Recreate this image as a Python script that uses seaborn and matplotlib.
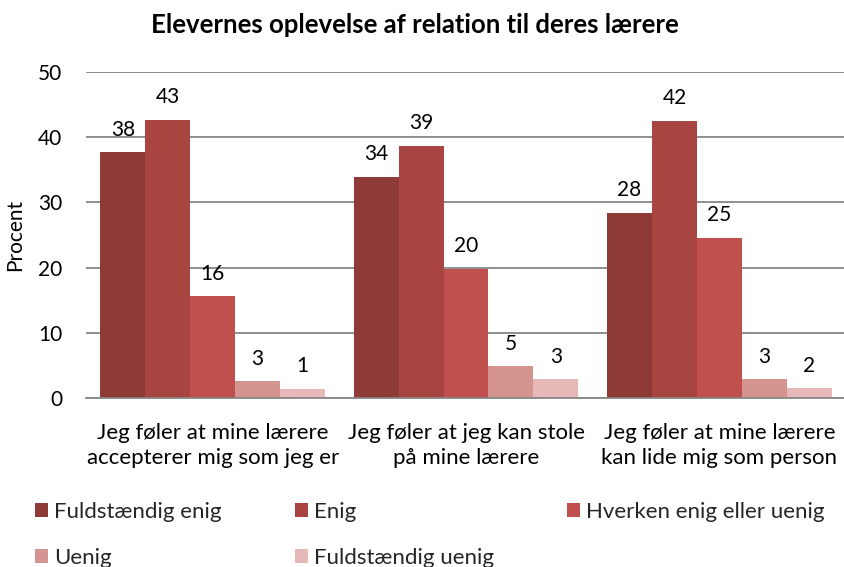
import matplotlib
matplotlib.use("Agg")
import matplotlib.pyplot as plt
import seaborn as sns
import pandas as pd

categories = ["Jeg føler at mine lærere\naccepterer mig som jeg er",
              "Jeg føler at jeg kan stole\npå mine lærere",
              "Jeg føler at mine lærere\nkan lide mig som person"]
series = ["Fuldstændig enig", "Enig", "Hverken enig eller uenig", "Uenig", "Fuldstændig uenig"]
fuldst_enig = [37.7, 33.9, 28.4]
enig = [42.7, 38.7, 42.5]
hverken = [15.6, 19.8, 24.6]
uenig = [2.6, 4.9, 2.9]
fuldst_uenig = [1.4, 2.9, 1.5]
colors = ["#8E3B37", "#A84541", "#C0504D", "#D49490", "#E6B9B8"]

values = [fuldst_enig, enig, hverken, uenig, fuldst_uenig]
rows = []
for s, vals in zip(series, values):
    for c, v in zip(categories, vals):
        rows.append({"cat": c, "serie": s, "val": v})
df = pd.DataFrame(rows)

sns.set_theme(style="white")
plt.rcParams["font.family"] = ["Lato", "DejaVu Sans"]

FS = 16
fig = plt.figure(figsize=(8.44, 5.67), dpi=100)
ax = fig.add_axes([86/844, 1-398/567, (846-86)/844, (398-72)/567])

sns.barplot(data=df, x="cat", y="val", hue="serie", order=categories, hue_order=series,
            palette=colors, saturation=1, width=0.886, dodge=True, gap=0, linewidth=0, ax=ax,
            legend=True, errorbar=None)

for cont in ax.containers:
    ax.bar_label(cont, labels=[f"{v:.0f}" for v in cont.datavalues], padding=9, fontsize=15, color="#000000")

ax.set_ylim(0, 50)
ax.set_yticks(range(0, 51, 10))
ax.set_xlim(-0.5, 2.5)
ax.yaxis.grid(True, color="#868686", linewidth=1.3)
ax.set_axisbelow(True)
for sp in ["left", "right", "top"]:
    ax.spines[sp].set_visible(False)
ax.spines["bottom"].set_color("#868686")
ax.spines["bottom"].set_linewidth(1.3)
ax.tick_params(axis="y", length=0, labelsize=15, pad=17, labelcolor="#000000")
ax.tick_params(axis="x", which="major", length=0, labelsize=FS, pad=18, labelcolor="#000000")
for t in ax.get_xticklabels():
    t.set_linespacing(1.3)
ax.set_xticks([-0.5, 0.5, 1.5, 2.5], minor=True)
ax.tick_params(axis="x", which="minor", length=6, width=1.3, color="#868686", direction="out")
ax.set_xlabel("")
ax.set_ylabel("Procent", fontsize=15, color="#000000", va="center")
ax.yaxis.set_label_coords(15/844, 1-235/567, transform=fig.transFigure)

fig.text(0.491, 1-25/567, "Elevernes oplevelse af relation til deres lærere", ha="center", va="center",
         fontsize=18.5, fontweight="bold", color="#000000")

h, l = ax.get_legend_handles_labels()
ax.get_legend().remove()
order = [0, 3, 1, 4, 2]
fig.legend([h[i] for i in order], [l[i] for i in order], ncol=3, loc="upper left",
           bbox_to_anchor=(35/844, 1-502/567), frameon=False, fontsize=FS,
           handlelength=0.6, handleheight=0.6, handletextpad=0.25, columnspacing=3.3,
           labelspacing=1.18, borderaxespad=0, borderpad=0)

fig.savefig("out.png", dpi=100)
